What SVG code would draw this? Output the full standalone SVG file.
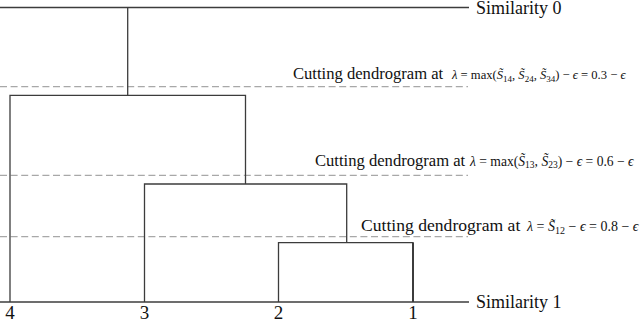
<svg xmlns="http://www.w3.org/2000/svg" width="640" height="321" viewBox="0 0 640 321">
<style>
.ln{fill:none;stroke:#3c3c3c;stroke-width:1.3}
.cut{fill:none;stroke:#a8a8a8;stroke-width:1.3;stroke-dasharray:7 3.6}
.t{font-family:'Liberation Serif','DejaVu Serif',serif;fill:#111}
.ax{font-size:18px}
.lf{font-size:19px;text-anchor:middle}
.cl{font-size:16.6px}
.i{font-style:italic}
</style>
<rect width="640" height="321" fill="#fff"/>
<g font-family="Liberation Serif, DejaVu Serif, serif">
<g id="axis-top"><path class="ln" d="M0 7.5H469"/><text class="t ax" x="476" y="14">Similarity 0</text></g>
<g id="axis-bottom"><path class="ln" d="M0 302H469"/><text class="t ax" x="476" y="307.5">Similarity 1</text></g>
<g id="cut-1"><path class="cut" d="M0 86.7H468"/>
<text class="t" x="293" y="79"><tspan class="cl">Cutting dendrogram at</tspan><tspan x="452" font-size="12.6"><tspan class="i">λ</tspan> = max(<tspan class="i">S̃</tspan><tspan font-size="9" dy="2.5">14</tspan><tspan dy="-2.5">, </tspan><tspan class="i">S̃</tspan><tspan font-size="9" dy="2.5">24</tspan><tspan dy="-2.5">, </tspan><tspan class="i">S̃</tspan><tspan font-size="9" dy="2.5">34</tspan><tspan dy="-2.5">) − </tspan><tspan class="i">ϵ</tspan> = 0.3 − <tspan class="i">ϵ</tspan></tspan></text></g>
<g id="cut-2"><path class="cut" d="M0 175.3H468"/>
<text class="t" x="315" y="165.7"><tspan class="cl">Cutting dendrogram at</tspan><tspan x="470" font-size="13.6"><tspan class="i">λ</tspan> = max(<tspan class="i">S̃</tspan><tspan font-size="9.5" dy="2.5">13</tspan><tspan dy="-2.5">, </tspan><tspan class="i">S̃</tspan><tspan font-size="9.5" dy="2.5">23</tspan><tspan dy="-2.5">) − </tspan><tspan class="i">ϵ</tspan> = 0.6 − <tspan class="i">ϵ</tspan></tspan></text></g>
<g id="cut-3"><path class="cut" d="M0 236.7H468"/>
<text class="t" x="361" y="231"><tspan font-size="17.6">Cutting dendrogram at</tspan><tspan x="527" font-size="14"><tspan class="i">λ</tspan> = <tspan class="i">S̃</tspan><tspan font-size="10" dy="2.5">12</tspan><tspan dy="-2.5"> − </tspan><tspan class="i">ϵ</tspan> = 0.8 − <tspan class="i">ϵ</tspan></tspan></text></g>
<g id="leaf-4"><text class="t lf" x="10" y="319">4</text></g>
<g id="leaf-3"><text class="t lf" x="144.5" y="319">3</text></g>
<g id="leaf-2"><text class="t lf" x="278.5" y="319">2</text></g>
<g id="leaf-1"><text class="t lf" x="413" y="319">1</text></g>
</g>
<g id="connectors">
<path class="ln" d="M127.7 7.5V95.3"/>
<path class="ln" d="M10 302V95.3H245.5V184"/>
<path class="ln" d="M144.5 302V184H346.7V242.7"/>
<path class="ln" d="M278.5 302V242.7H413V302"/>
<path class="ln" d="M413 242.7V302" style="stroke-width:2"/>
</g>
</svg>
